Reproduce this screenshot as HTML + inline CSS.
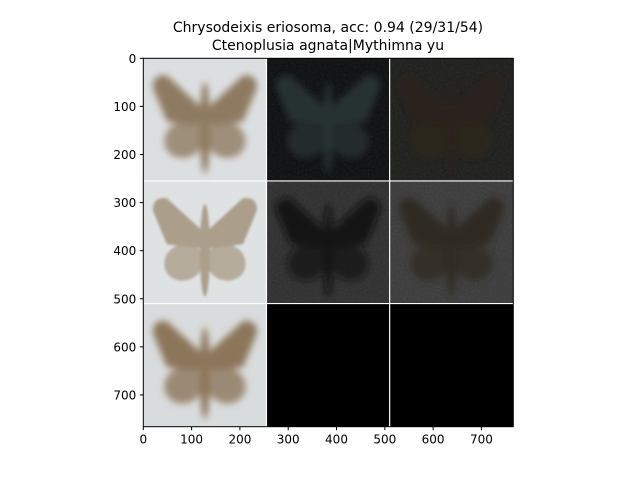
<!DOCTYPE html>
<html><head><meta charset="utf-8"><style>
html,body{margin:0;padding:0;background:#fff;}
svg{display:block;font-family:"DejaVu Sans","Liberation Sans",sans-serif;}
</style></head><body>
<svg id="fig" width="640" height="480" viewBox="0 0 640 480">
<defs>
<filter id="b4" x="-30%" y="-30%" width="160%" height="160%"><feGaussianBlur stdDeviation="3.5"/></filter>
<filter id="b2" x="-30%" y="-30%" width="160%" height="160%"><feGaussianBlur stdDeviation="1.2"/></filter>
<filter id="noise" x="0" y="0" width="100%" height="100%"><feTurbulence type="fractalNoise" baseFrequency="0.5" numOctaves="2" seed="3"/><feColorMatrix type="saturate" values="0.2"/><feComponentTransfer><feFuncA type="table" tableValues="0 0.1"/></feComponentTransfer></filter>
</defs>
<text x="328" y="32" text-anchor="middle" font-size="14">Chrysodeixis eriosoma, acc: 0.94 (29/31/54)</text>
<text x="328" y="50" text-anchor="middle" font-size="14">Ctenoplusia agnata|Mythimna yu</text>
<g id="plot"></g>
</svg>
<script>
const xTicks = [0,100,200,300,400,500,600,700];
const yTicks = [0,100,200,300,400,500,600,700];
const tileRows = [0,1,2];
const tileCols = [0,1,2];
const tileBg = [["#dcdfe0","#0c0d0e","#1c1c1b"],["#dfe2e3","#2e2e2e","#3a3a3a"],["#d9dcdc","#000000","#000000"]];
const mothCol = [["#8e7a60","#283030","#2a241c"],["#ab9f8b","#101010","#2e2a22"],["#8c765a",null,null]];
const extent = 766, tileSize = 255;
const X0=143.3, X1=513.3, Y0=58.3, Y1=426.7;
const sx=v=>X0+(X1-X0)*v/extent, sy=v=>Y0+(Y1-Y0)*v/extent;
const NS="http://www.w3.org/2000/svg";
const plot=document.getElementById('plot');
function mk(t,a,p){const e=document.createElementNS(NS,t);for(const k in a)e.setAttribute(k,a[k]);(p||plot).appendChild(e);return e;}
tileRows.forEach(r=>tileCols.forEach(c=>{
  const x=sx(c*tileSize), y=sy(r*tileSize), w=sx(c==2?extent:(c+1)*tileSize)-x, h=sy(r==2?extent:(r+1)*tileSize)-y;
  const g=mk('g',{});
  
  
  mk('rect',{x:x,y:y,width:w,height:h,fill:tileBg[r][c]},g);
  if(c>0&&r<2) mk('rect',{x:x,y:y,width:w,height:h,filter:'url(#noise)'},g);
  const col=mothCol[r][c];
  if(col){
    const cx=x+w/2, cy=y+h/2, s=w/123;
    const f=(r==1&&c==0)?'url(#b2)':'url(#b4)';
    const m=mk('g',{transform:`translate(${cx},${cy}) scale(${s})`,filter:f,opacity:(r==1&&c==1)?0.8:1},g);
    
    
    mk('path',{d:'M-3,-12 L-38,-44 Q-52,-46 -52,-32 L-38,2 L-4,6 Z',fill:col},m);
    mk('path',{d:'M3,-12 L38,-44 Q52,-46 52,-32 L38,2 L4,6 Z',fill:col},m);
    mk('ellipse',{cx:-21,cy:20,rx:20,ry:18,transform:'rotate(-25 -21 20)',fill:col,opacity:0.8},m);
    mk('ellipse',{cx:21,cy:20,rx:20,ry:18,transform:'rotate(25 21 20)',fill:col,opacity:0.8},m);
    mk('ellipse',{cx:0,cy:8,rx:5,ry:46,fill:col},m);
  }
}));
[tileSize,2*tileSize].forEach(v=>{mk('line',{x1:sx(v),x2:sx(v),y1:Y0,y2:Y1,stroke:'#fff','stroke-width':1.2});mk('line',{x1:X0,x2:X1,y1:sy(v),y2:sy(v),stroke:'#fff','stroke-width':1.2});});
const frame=mk('rect',{x:X0,y:Y0,width:X1-X0,height:Y1-Y0,fill:'none',stroke:'#000','stroke-width':1});


xTicks.forEach(v=>{const x=sx(v);mk('line',{x1:x,x2:x,y1:Y1,y2:Y1+3.5,stroke:'#000'});
  const t=mk('text',{x:x,y:Y1+17,'text-anchor':'middle','font-size':12});t.textContent=v;
  
  });
yTicks.forEach(v=>{const y=sy(v);mk('line',{x1:X0-3.5,x2:X0,y1:y,y2:y,stroke:'#000'});
  const t=mk('text',{x:X0-7,y:y+4.5,'text-anchor':'end','font-size':12});t.textContent=v;
  
  });
</script>
</body></html>
